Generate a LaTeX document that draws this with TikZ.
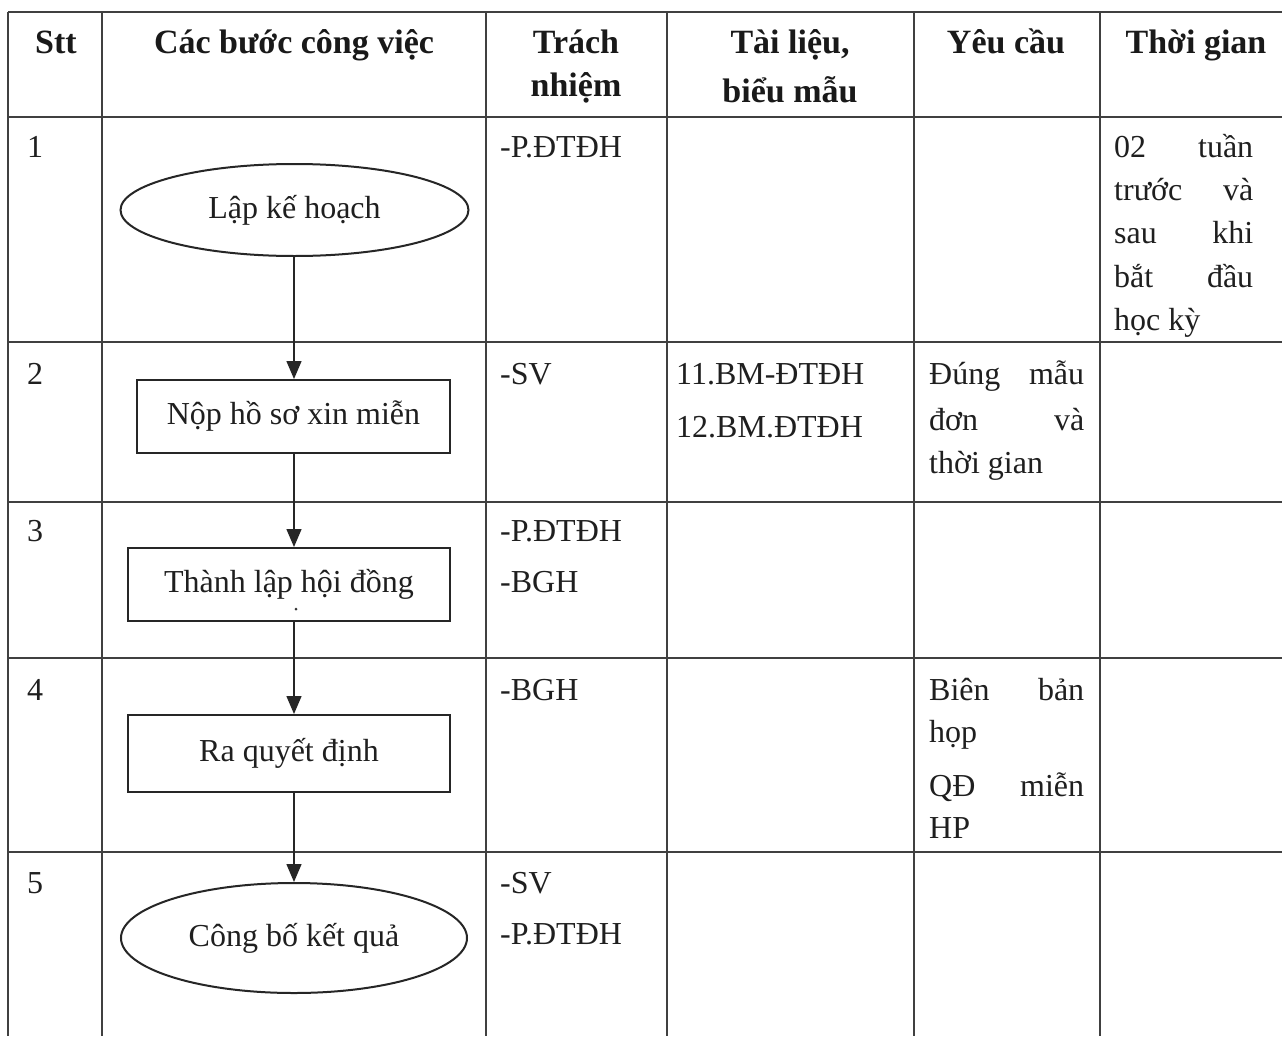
\documentclass[tikz,border=0pt]{standalone}
\usepackage{fontspec}
\setmainfont{Liberation Serif}
\usetikzlibrary{shapes.geometric,arrows.meta}
\begin{document}
\begin{tikzpicture}[x=1pt,y=-1pt,
  gridline/.style={draw=black!75, line width=1.3pt},
  txt/.style={inner sep=0pt, text=black!88, font=\fontsize{32}{43}\selectfont},
  hdr/.style={inner sep=0pt, text=black!90, font=\fontsize{34}{43}\selectfont\bfseries},
  stepbox/.style={rectangle, draw=black!85, line width=2pt, inner sep=0pt, text=black!88, font=\fontsize{32}{43}\selectfont},
  oval/.style={ellipse, draw=black!85, line width=2pt, inner sep=0pt, text=black!88, font=\fontsize{32}{43}\selectfont},
  arr/.style={draw=black!85, line width=1.5pt, -{Triangle[width=15pt,length=18pt]}}]
\useasboundingbox (0,0) rectangle (1282,1036);
\fill[white] (0,0) rectangle (1282,1036);
% table grid
\foreach \yy in {12,117,342,502,658,852}
  \draw[gridline] (8,\yy) -- (1282,\yy);
\foreach \xx in {8,102,486,667,914,1100}
  \draw[gridline] (\xx,12) -- (\xx,1036);
% header
\node[hdr, anchor=base] (hstt) at (56,53) {Stt};
\node[hdr, anchor=base] (hsteps) at (294,53) {Các bước công việc};
\node[hdr, anchor=base] (htn1) at (576,53) {Trách};
\node[hdr, anchor=base] (htn2) at (576,96) {nhiệm};
\node[hdr, anchor=base] (htl1) at (790,53) {Tài liệu,};
\node[hdr, anchor=base] (htl2) at (790,102) {biểu mẫu};
\node[hdr, anchor=base] (hyc) at (1006,53) {Yêu cầu};
\node[hdr, anchor=base] (htg) at (1196,53) {Thời gian};
% row 1
\node[txt, anchor=base west] (n1) at (27,157) {1};
\node[txt, anchor=base west] (r1a) at (500,157) {-P.ĐTĐH};
\node[txt, anchor=base west] (t1) at (1114,157) {\makebox[139pt][s]{02\hfill tuần}};
\node[txt, anchor=base west] (t2) at (1114,200) {\makebox[139pt][s]{trước\hfill và}};
\node[txt, anchor=base west] (t3) at (1114,243) {\makebox[139pt][s]{sau\hfill khi}};
\node[txt, anchor=base west] (t4) at (1114,287) {\makebox[139pt][s]{bắt\hfill đầu}};
\node[txt, anchor=base west] (t5) at (1114,330) {học kỳ};
% row 2
\node[txt, anchor=base west] (n2) at (27,384) {2};
\node[txt, anchor=base west] (r2a) at (500,384) {-SV};
\node[txt, anchor=base west] (d2a) at (676,384) {11.BM-ĐTĐH};
\node[txt, anchor=base west] (d2b) at (676,437) {12.BM.ĐTĐH};
\node[txt, anchor=base west] (y2a) at (929,384) {\makebox[155pt][s]{Đúng\hfill mẫu}};
\node[txt, anchor=base west] (y2b) at (929,430) {\makebox[155pt][s]{đơn\hfill và}};
\node[txt, anchor=base west] (y2c) at (929,473) {thời gian};
% row 3
\node[txt, anchor=base west] (n3) at (27,541) {3};
\node[txt, anchor=base west] (r3a) at (500,541) {-P.ĐTĐH};
\node[txt, anchor=base west] (r3b) at (500,592) {-BGH};
% row 4
\node[txt, anchor=base west] (n4) at (27,700) {4};
\node[txt, anchor=base west] (r4a) at (500,700) {-BGH};
\node[txt, anchor=base west] (y4a) at (929,700) {\makebox[155pt][s]{Biên\hfill bản}};
\node[txt, anchor=base west] (y4b) at (929,742) {họp};
\node[txt, anchor=base west] (y4c) at (929,796) {\makebox[155pt][s]{QĐ\hfill miễn}};
\node[txt, anchor=base west] (y4d) at (929,838) {HP};
% row 5
\node[txt, anchor=base west] (n5) at (27,893) {5};
\node[txt, anchor=base west] (r5a) at (500,893) {-SV};
\node[txt, anchor=base west] (r5b) at (500,944) {-P.ĐTĐH};
% flow steps
\node[oval, minimum width=348pt, minimum height=92pt] (e1) at (294.5,210) {Lập kế hoạch};
\node[stepbox, minimum width=313pt, minimum height=73pt] (b2) at (293.5,416.5) {Nộp hồ sơ xin miễn};
\node[stepbox, minimum width=322pt, minimum height=73pt] (b3) at (289,584.5) {\raisebox{3pt}{Thành lập hội đồng}};
\node[stepbox, minimum width=322pt, minimum height=77pt] (b4) at (289,753.5) {Ra quyết định};
\node[oval, minimum width=346pt, minimum height=110pt] (e2) at (294,938) {Công bố kết quả};
\coordinate (ax) at (294,0);
\fill[black!80] (296,609) circle (1.5pt);
% connectors
\draw[arr] (ax |- e1.south) -- (ax |- b2.north);
\draw[arr] (ax |- b2.south) -- (ax |- b3.north);
\draw[arr] (ax |- b3.south) -- (ax |- b4.north);
\draw[arr] (ax |- b4.south) -- (ax |- e2.north);
\end{tikzpicture}
\end{document}
